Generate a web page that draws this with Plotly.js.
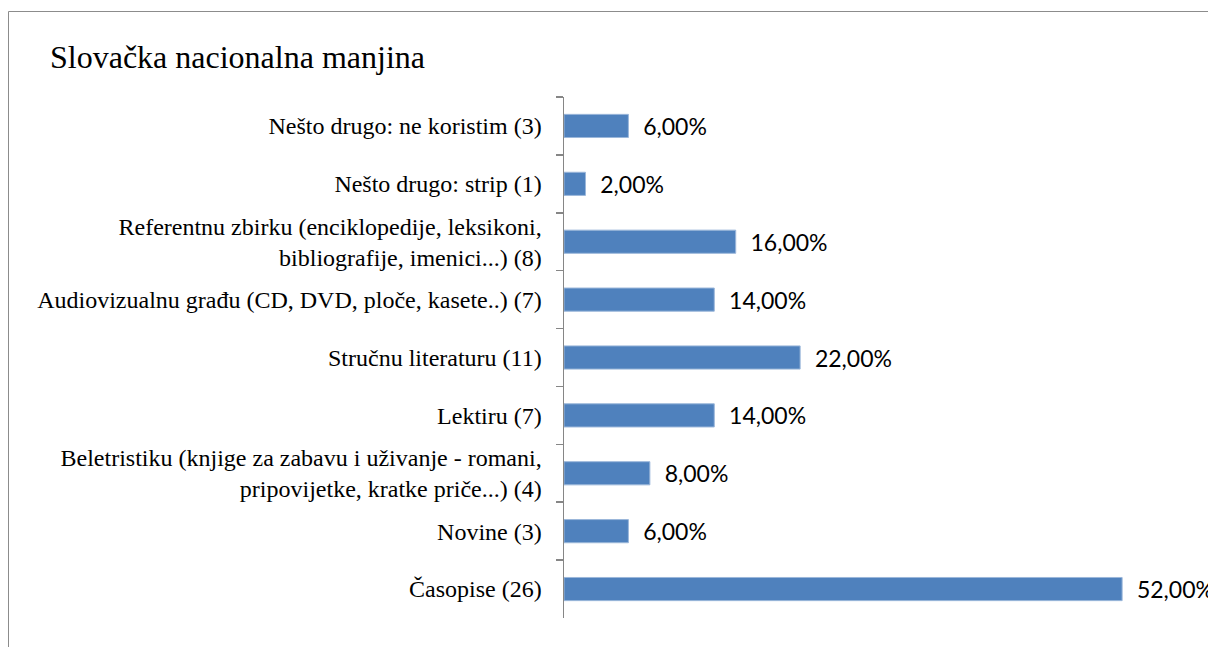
<!DOCTYPE html>
<html>
<head>
<meta charset="utf-8">
<script src="https://cdn.plot.ly/plotly-3.0.1.min.js"></script>
<style>
  html, body { margin: 0; padding: 0; background: #ffffff; }
  #chart { width: 1208px; height: 647px; }
</style>
</head>
<body>
<div id="chart"></div>
<script>
// Categories listed top to bottom as shown
const categories = [
  "Nešto drugo: ne koristim (3)",
  "Nešto drugo: strip (1)",
  "Referentnu zbirku (enciklopedije, leksikoni,<br>bibliografije, imenici...) (8)",
  "Audiovizualnu građu (CD, DVD, ploče, kasete..) (7)",
  "Stručnu literaturu (11)",
  "Lektiru (7)",
  "Beletristiku (knjige za zabavu i uživanje - romani,<br>pripovijetke, kratke priče...) (4)",
  "Novine (3)",
  "Časopise (26)"
];
const shares = [0.06, 0.02, 0.16, 0.14, 0.22, 0.14, 0.08, 0.06, 0.52];
const labels = ["6,00%", "2,00%", "16,00%", "14,00%", "22,00%", "14,00%", "8,00%", "6,00%", "52,00%"];
const chartTitle = "Slovačka nacionalna manjina";

const W = 1208, H = 647;
const plotL = 564, plotR = 1208, plotT = 97, plotB = 618;
const px = v => (v - plotL) / (plotR - plotL);
const py = v => (plotB - v) / (plotB - plotT);

const trace = {
  type: "bar",
  orientation: "h",
  y: categories,
  x: shares,
  text: labels.map(s => "\u00a0\u00a0" + s),
  textposition: "outside",
  constraintext: "none",
  cliponaxis: false,
  textfont: { family: "Lato, 'Open Sans', sans-serif", size: 23, color: "#000000" },
  marker: { color: "#4F81BD", line: { color: "#9bb7da", width: 1 } },
  hoverinfo: "none"
};

const layout = {
  width: W, height: H,
  margin: { l: plotL, r: W - plotR, t: plotT, b: H - plotB, pad: 0 },
  paper_bgcolor: "#ffffff",
  plot_bgcolor: "rgba(0,0,0,0)",
  showlegend: false,
  bargap: 0.6,
  title: {
    text: chartTitle,
    x: 50 / W, xref: "container", xanchor: "left",
    y: 1 - 57 / H, yref: "container", yanchor: "middle",
    font: { family: "'Liberation Serif', 'Times New Roman', serif", size: 32, color: "#000000" }
  },
  xaxis: {
    range: [0, 0.6],
    visible: false,
    fixedrange: true
  },
  yaxis: {
    type: "category",
    autorange: "reversed",
    showline: true, linecolor: "#868686", linewidth: 1.5,
    ticks: "outside", tickson: "boundaries", ticklen: 7, tickcolor: "#868686", tickwidth: 1.5,
    ticklabelstandoff: 16,
    showgrid: false, zeroline: false,
    tickfont: { family: "'Liberation Serif', 'Times New Roman', serif", size: 24, color: "#000000" },
    fixedrange: true
  },
  shapes: [
    { type: "line", xref: "paper", yref: "paper", x0: px(8.5), x1: px(8.5), y0: py(11.5), y1: py(H + 5),
      line: { color: "#8c8c8c", width: 1 } },
    { type: "line", xref: "paper", yref: "paper", x0: px(8.5), x1: px(W + 5), y0: py(11.5), y1: py(11.5),
      line: { color: "#8c8c8c", width: 1 } }
  ]
};

Plotly.newPlot("chart", [trace], layout, { staticPlot: true, displayModeBar: false });
</script>
</body>
</html>
